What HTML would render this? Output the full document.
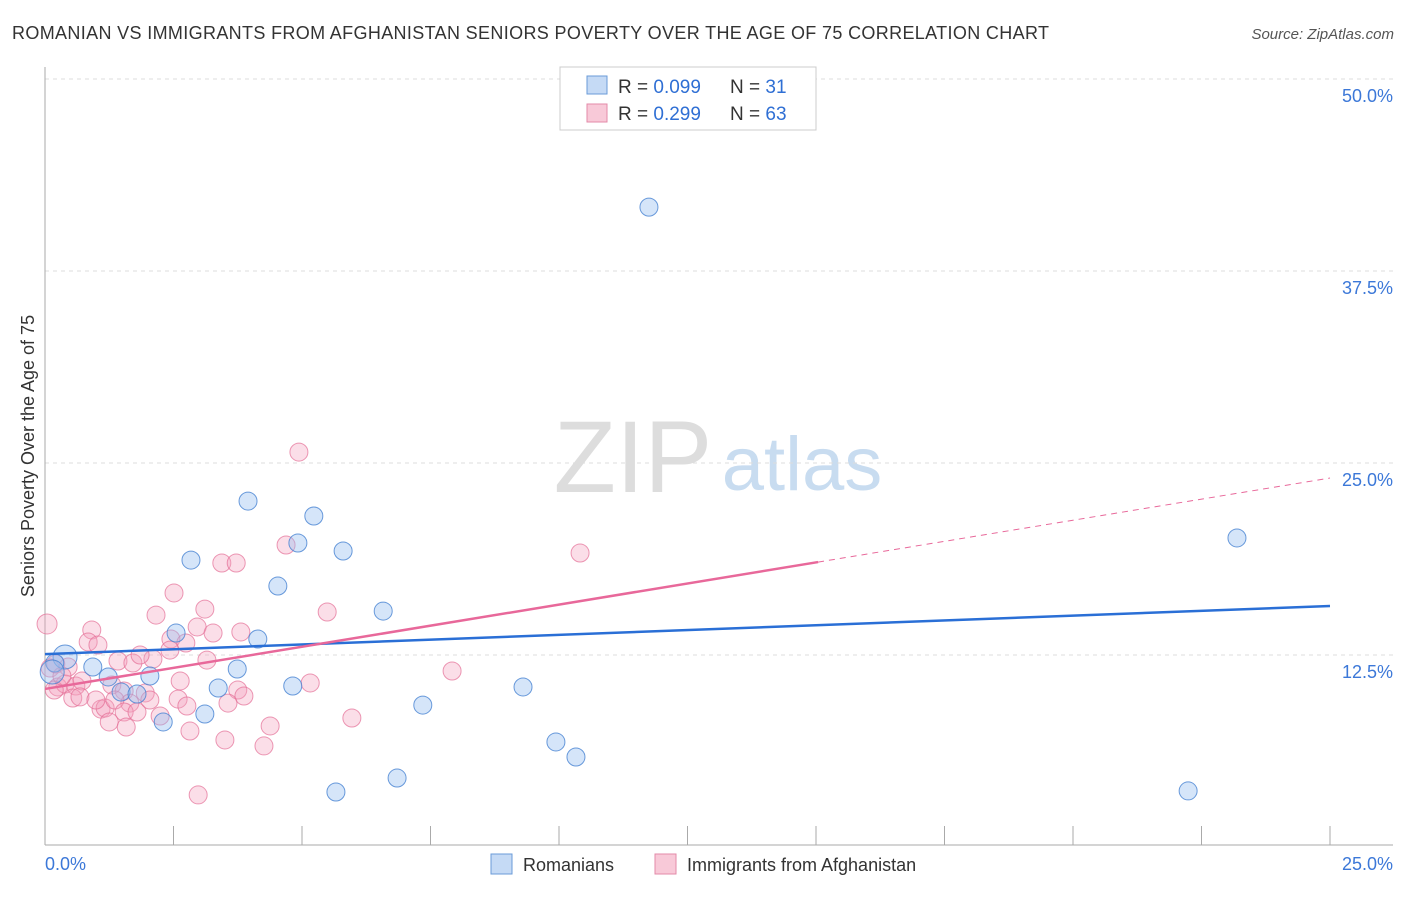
<!DOCTYPE html>
<html><head><meta charset="utf-8"><style>
body{margin:0;background:#fff;font-family:"Liberation Sans",sans-serif;}
svg text{font-family:"Liberation Sans",sans-serif;}
</style></head><body>
<svg width="1406" height="892" xmlns="http://www.w3.org/2000/svg">
<text x="12" y="39" font-size="18" fill="#333" textLength="1037" lengthAdjust="spacing">ROMANIAN VS IMMIGRANTS FROM AFGHANISTAN SENIORS POVERTY OVER THE AGE OF 75 CORRELATION CHART</text>
<text x="1394" y="39" font-size="15" fill="#555" font-style="italic" text-anchor="end">Source: ZipAtlas.com</text>
<g>
<text x="633" y="492" font-size="102" fill="#ddd" font-family="Liberation Serif, serif" text-anchor="middle">ZIP</text>
<text x="802" y="490" font-size="76" fill="#c8dcf0" text-anchor="middle">atlas</text>
</g>
<g id="grid"></g>
<g id="axes"></g>
<text transform="translate(34,456) rotate(-90)" font-size="18" fill="#333" text-anchor="middle">Seniors Poverty Over the Age of 75</text>
<g id="pts"></g>
<g id="lines"></g>
<g>
<rect x="560" y="67" width="256" height="63" fill="#fff" stroke="#ccc"/>
<rect x="587" y="76" width="20" height="18" fill="#c5daf5" stroke="#6a9bd8"/>
<rect x="587" y="104" width="20" height="18" fill="#f8c9d8" stroke="#e38aa8"/>
<text x="618" y="93" font-size="19" fill="#333">R = <tspan fill="#2f6fd4">0.099</tspan></text>
<text x="730" y="93" font-size="19" fill="#333">N = <tspan fill="#2f6fd4"> 31</tspan></text>
<text x="618" y="120" font-size="19" fill="#333">R = <tspan fill="#2f6fd4"> 0.299</tspan></text>
<text x="730" y="120" font-size="19" fill="#333">N = <tspan fill="#2f6fd4">63</tspan></text>
</g>
<g>
<rect x="491" y="854" width="21" height="20" fill="#c5daf5" stroke="#6a9bd8"/>
<text x="523" y="871" font-size="18" fill="#333">Romanians</text>
<rect x="655" y="854" width="21" height="20" fill="#f8c9d8" stroke="#e38aa8"/>
<text x="687" y="871" font-size="18" fill="#333">Immigrants from Afghanistan</text>
</g>
</svg>
<script>
const xTicks=[0,25];
const yTicks=[12.5,25,37.5,50];
const blueX=[11.75,23.19,22.24,3.95,5.23,4.92,5.80,2.84,4.53,6.58,2.55,4.14,3.74,0.39,0.19,0.93,1.23,2.04,3.37,4.82,9.30,1.48,1.79,7.35,3.11,2.30,9.94,10.33,6.85,5.66,0.14];
const blueY=[41.66,20.12,3.65,22.52,21.55,19.79,19.27,18.68,16.99,15.36,13.93,13.54,11.59,12.37,11.98,11.72,11.07,11.13,10.35,10.48,10.42,10.09,9.96,9.24,8.66,8.14,6.84,5.86,4.49,3.58,11.39];
const pinkX=[4.94,10.41,4.69,3.44,3.72,2.51,3.11,2.16,5.49,0.04,0.91,2.96,2.45,2.74,3.81,3.27,0.84,1.03,2.10,1.42,1.71,0.21,0.45,7.92,5.16,2.63,1.30,1.54,1.95,0.25,0.39,0.60,0.72,3.75,3.87,2.59,2.76,3.56,0.54,0.68,1.09,1.17,1.65,1.36,1.54,1.79,2.24,5.97,1.25,1.58,2.82,4.38,3.50,4.26,2.98,0.18,0.10,0.33,0.99,2.04,3.15,2.43,1.85];
const pinkY=[25.71,19.14,19.66,18.49,18.49,16.54,15.49,15.10,15.30,14.52,14.13,14.32,13.54,13.28,14.00,13.93,13.35,13.15,12.24,12.11,11.98,11.91,11.72,11.46,10.68,10.81,10.55,10.16,10.03,10.42,10.61,10.48,10.81,10.22,9.83,9.63,9.18,9.37,9.70,9.77,8.98,9.05,9.37,9.57,8.79,8.79,8.53,8.40,8.14,7.81,7.55,7.88,6.97,6.58,3.39,10.22,11.65,11.13,9.57,9.57,12.17,12.82,12.50];
const blueTrend=[12.56,15.69];
const pinkTrend=[10.29,24.02];
const pinkSolidEnd=15.04;
const NS="http://www.w3.org/2000/svg";
const X=v=>45+v/25*1285, Y=v=>847-v/12.5*192;
function mk(t,a,p){const e=document.createElementNS(NS,t);for(const k in a)e.setAttribute(k,a[k]);p.appendChild(e);return e;}
const grid=document.getElementById('grid'),axes=document.getElementById('axes');
yTicks.forEach(v=>{const l=mk('line',{x1:45,x2:1393,y1:Y(v),y2:Y(v),stroke:'#ddd','stroke-dasharray':'4,4'},grid);


const t=mk('text',{x:1393,y:Y(v)+23,'font-size':18,fill:'#3c78d8','text-anchor':'end'},axes);t.textContent=v.toFixed(1)+'%';

});
mk('line',{x1:45,x2:45,y1:67,y2:845,stroke:'#aaa'},axes);
mk('line',{x1:45,x2:1393,y1:845,y2:845,stroke:'#aaa'},axes);
for(let i=0;i<=10;i++){mk('line',{x1:X(i*2.5),x2:X(i*2.5),y1:826,y2:845,stroke:'#aaa'},axes);}
xTicks.forEach((v,i)=>{const t=mk('text',{x:i?1393:45,y:870,'font-size':18,fill:'#3c78d8','text-anchor':i?'end':'start'},axes);t.textContent=v.toFixed(1)+'%';

});
const pts=document.getElementById('pts');
pinkX.forEach((x,i)=>{const c=mk('circle',{cx:X(x),cy:Y(pinkY[i]),r:i==9?10:9,fill:'rgba(244,160,190,0.35)',stroke:'rgba(228,110,150,0.7)','stroke-width':1},pts);

});
blueX.forEach((x,i)=>{const c=mk('circle',{cx:X(x),cy:Y(blueY[i]),r:(i==13||i==30)?12:9,fill:'rgba(150,190,240,0.4)',stroke:'rgba(70,130,210,0.8)','stroke-width':1},pts);

});
const lines=document.getElementById('lines');
const bl=mk('line',{x1:X(0),y1:Y(blueTrend[0]),x2:X(25),y2:Y(blueTrend[1]),stroke:'#2a6fd6','stroke-width':2.5},lines);


const py=x=>pinkTrend[0]+(pinkTrend[1]-pinkTrend[0])*x/25;
const pl=mk('line',{x1:X(0),y1:Y(py(0)),x2:X(pinkSolidEnd),y2:Y(py(pinkSolidEnd)),stroke:'#e8689a','stroke-width':2.5},lines);


const pd=mk('line',{x1:X(pinkSolidEnd),y1:Y(py(pinkSolidEnd)),x2:X(25),y2:Y(py(25)),stroke:'#e8689a','stroke-width':1,'stroke-dasharray':'6,5'},lines);


</script>
</body></html>
